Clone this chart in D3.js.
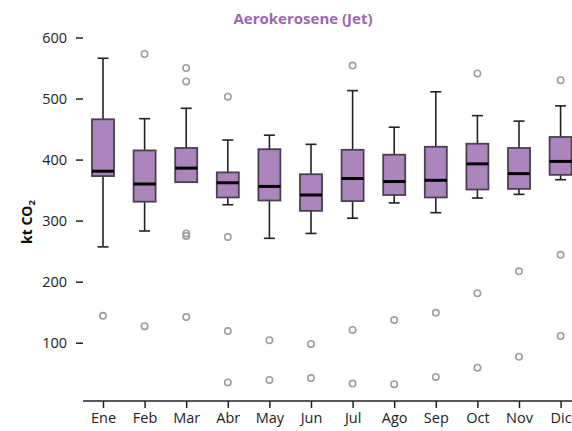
<!DOCTYPE html>
<html><head><meta charset="utf-8">
<script src="https://cdn.jsdelivr.net/npm/d3@7"></script>
<style>body{margin:0;background:#fff}svg{display:block}text{font-family:"Open Sans",sans-serif}</style>
</head><body><svg id="c" width="572" height="431"></svg>
<script>
const months = ["Ene","Feb","Mar","Abr","May","Jun","Jul","Ago","Sep","Oct","Nov","Dic"];
const whiskerLow  = [257,283,363,326,271,279,304,329,313,337,343,367];
const q1          = [373,331,363,338,333,316,332,342,338,351,352,375];
const median      = [381,360,386,362,356,342,369,364,366,393,377,397];
const q3          = [466,415,419,379,417,376,416,408,421,426,419,437];
const whiskerHigh = [566,467,484,432,440,425,513,453,511,472,463,488];
const outliers = [
  [144],
  [573,127],
  [550,528,279,275,142],
  [503,273,119,35],
  [104,39],
  [98,42],
  [554,121,33],
  [137,32],
  [149,44],
  [541,181,59],
  [217,77],
  [530,244,111]
];
const yTicks = [100,200,300,400,500,600];

const svg = d3.select("#c");
const x = d3.scalePoint().domain(months).range([103,560.6]);
const y = d3.scaleLinear().domain([100,600]).range([342.7,37.5]);
const bw = 22;

// title
svg.append("text").attr("x",303).attr("y",24).attr("text-anchor","middle")
  .attr("font-size",15).attr("font-weight","bold").attr("fill","#9b66b3").text("Aerokerosene (Jet)");

// y axis (no domain line)
const ya = svg.append("g").attr("transform","translate(83,0)")
  .call(d3.axisLeft(y).tickValues(yTicks).tickSize(7).tickPadding(9));
ya.select(".domain").remove();
ya.selectAll("line").attr("stroke","#222").attr("stroke-width",1.5);
ya.selectAll("text").attr("font-size",14.5).attr("fill","#222").attr("font-family","Open Sans, sans-serif");

svg.append("text").attr("transform","translate(32,222) rotate(-90)").attr("text-anchor","middle")
  .attr("font-size",14).attr("font-weight","bold").attr("fill","#111")
  .html('kt CO<tspan font-size="9.5" dy="3">2</tspan>');

// x axis
const xa = svg.append("g").attr("transform","translate(0,401)")
  .call(d3.axisBottom(x).tickSize(7).tickPadding(5).tickSizeOuter(0));
xa.select(".domain").attr("d","M83,0H580").attr("stroke","#222").attr("stroke-width",1.5);
xa.selectAll("line").attr("stroke","#222").attr("stroke-width",1.5);
xa.selectAll("text").attr("font-size",14.5).attr("fill","#222").attr("font-family","Open Sans, sans-serif");

const g = svg.append("g");
months.forEach((m,i)=>{
  const cx = x(m);
  const gg = g.append("g");
  gg.append("line").attr("x1",cx).attr("x2",cx).attr("y1",y(q3[i])).attr("y2",y(whiskerHigh[i])).attr("stroke","#222").attr("stroke-width",1.6);
  gg.append("line").attr("x1",cx).attr("x2",cx).attr("y1",y(q1[i])).attr("y2",y(whiskerLow[i])).attr("stroke","#222").attr("stroke-width",1.6);
  gg.append("line").attr("x1",cx-bw/4).attr("x2",cx+bw/4).attr("y1",y(whiskerHigh[i])).attr("y2",y(whiskerHigh[i])).attr("stroke","#222").attr("stroke-width",1.6);
  gg.append("line").attr("x1",cx-bw/4).attr("x2",cx+bw/4).attr("y1",y(whiskerLow[i])).attr("y2",y(whiskerLow[i])).attr("stroke","#222").attr("stroke-width",1.6);
  gg.append("rect").attr("x",cx-bw/2).attr("width",bw).attr("y",y(q3[i])).attr("height",y(q1[i])-y(q3[i]))
    .attr("fill","#ab85bb").attr("stroke","#4a4050").attr("stroke-width",1.8);
  gg.append("line").attr("x1",cx-bw/2).attr("x2",cx+bw/2).attr("y1",y(median[i])).attr("y2",y(median[i])).attr("stroke","#000").attr("stroke-width",3);
  outliers[i].forEach(v=>{
    gg.append("circle").attr("cx",cx).attr("cy",y(v)).attr("r",3.2).attr("fill","none").attr("stroke","#9e9e9e").attr("stroke-width",1.6);
  });
});
</script></body></html>
